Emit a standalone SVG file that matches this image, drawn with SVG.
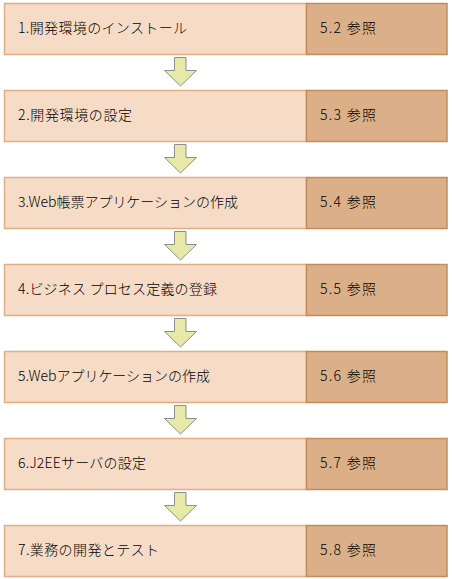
<svg xmlns="http://www.w3.org/2000/svg" width="452" height="579" viewBox="0 0 452 579">
<style>
.l{fill:#F6DCC6;stroke:#E0AE84;stroke-width:1.5}
.r{fill:#DBB089;stroke:#C48B58;stroke-width:1.5}
.t{font-family:"Noto Sans CJK JP","DejaVu Sans",sans-serif;font-size:14px;font-weight:300;fill:#000}
.a{fill:#E8E8A8;stroke:#8E8E8E;stroke-width:1}
</style>
<defs>
<path id="arr" class="a" d="M174.5,57.5 H186 V70.5 H196.5 L180.5,86 L164.5,70.5 H174.5 Z"/>
</defs>
<g id="connectors">
<use href="#arr"/>
<use href="#arr" y="87"/>
<use href="#arr" y="174"/>
<use href="#arr" y="261"/>
<use href="#arr" y="348"/>
<use href="#arr" y="435"/>
</g>
<g id="step1"><rect class="l" x="4.5" y="3.5" width="302" height="51"/><rect class="r" x="306.5" y="3.5" width="140.5" height="51"/><text class="t" x="18" y="33" textLength="169" lengthAdjust="spacing">1.開発環境のインストール</text><text class="t" x="320" y="33" textLength="56" lengthAdjust="spacing">5.2 参照</text></g>
<g id="step2"><rect class="l" x="4.5" y="90.5" width="302" height="51"/><rect class="r" x="306.5" y="90.5" width="140.5" height="51"/><text class="t" x="18" y="120" textLength="114" lengthAdjust="spacing">2.開発環境の設定</text><text class="t" x="320" y="120" textLength="56" lengthAdjust="spacing">5.3 参照</text></g>
<g id="step3"><rect class="l" x="4.5" y="177.5" width="302" height="51"/><rect class="r" x="306.5" y="177.5" width="140.5" height="51"/><text class="t" x="18" y="207" textLength="220" lengthAdjust="spacing">3.Web帳票アプリケーションの作成</text><text class="t" x="320" y="207" textLength="56" lengthAdjust="spacing">5.4 参照</text></g>
<g id="step4"><rect class="l" x="4.5" y="264.5" width="302" height="51"/><rect class="r" x="306.5" y="264.5" width="140.5" height="51"/><text class="t" x="18" y="294" textLength="199" lengthAdjust="spacing">4.ビジネス プロセス定義の登録</text><text class="t" x="320" y="294" textLength="56" lengthAdjust="spacing">5.5 参照</text></g>
<g id="step5"><rect class="l" x="4.5" y="351.5" width="302" height="51"/><rect class="r" x="306.5" y="351.5" width="140.5" height="51"/><text class="t" x="18" y="381" textLength="192" lengthAdjust="spacing">5.Webアプリケーションの作成</text><text class="t" x="320" y="381" textLength="56" lengthAdjust="spacing">5.6 参照</text></g>
<g id="step6"><rect class="l" x="4.5" y="438.5" width="302" height="51"/><rect class="r" x="306.5" y="438.5" width="140.5" height="51"/><text class="t" x="18" y="468" textLength="128" lengthAdjust="spacing">6.J2EEサーバの設定</text><text class="t" x="320" y="468" textLength="56" lengthAdjust="spacing">5.7 参照</text></g>
<g id="step7"><rect class="l" x="4.5" y="525.5" width="302" height="51"/><rect class="r" x="306.5" y="525.5" width="140.5" height="51"/><text class="t" x="18" y="555" textLength="141" lengthAdjust="spacing">7.業務の開発とテスト</text><text class="t" x="320" y="555" textLength="56" lengthAdjust="spacing">5.8 参照</text></g>
</svg>
